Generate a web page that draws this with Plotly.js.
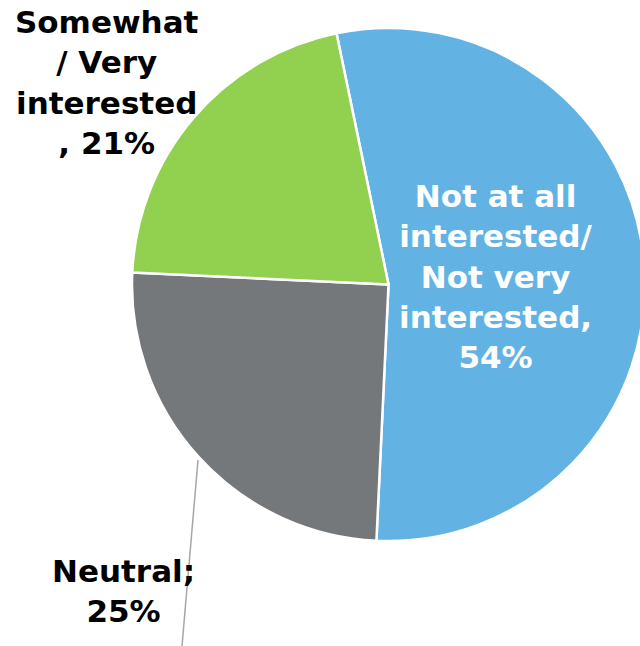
<!DOCTYPE html>
<html>
<head>
<meta charset="utf-8">
<script src="https://cdn.plot.ly/plotly-3.0.1.min.js"></script>
<style>
html,body{margin:0;padding:0;overflow:hidden;background:#fff;}
#chart{width:645px;height:646px;}
</style>
</head>
<body>
<div id="chart"></div>
<script>
// Data
const categories = ["Not at all interested/ Not very interested", "Neutral", "Somewhat / Very interested"];
const values = [54, 25, 21];
const colors = ["#62B3E4", "#75787B", "#92D050"];
const labelLines = [
  ["Not at all", "interested/", "Not very", "interested,"],
  ["Neutral;"],
  ["Somewhat", "/ Very", "interested", ","]
];

const W = 645, H = 646;
const px = x => x / W;
const py = y => 1 - y / H;

const total = values.reduce((a, b) => a + b, 0);
const pct = values.map(v => Math.round(v / total * 100) + "%");

const txt = [
  labelLines[0].join("<br>") + "<br>" + pct[0],
  labelLines[1].join("<br>") + "<br>" + pct[1],
  labelLines[2].slice(0, 3).join("<br>") + "<br>" + labelLines[2][3] + " " + pct[2]
];

const font = {family: "DejaVu Sans", size: 31, color: "#000", weight: "bold"};

const data = [{
  type: "pie",
  labels: categories,
  values: values,
  sort: false,
  direction: "clockwise",
  rotation: -11.7,
  marker: {colors: colors, line: {color: "#ffffff", width: 2.5}},
  textinfo: "none",
  hoverinfo: "label+percent",
  domain: {x: [132 / W, 1], y: [105 / H, 618 / H]}
}];

const layout = {
  width: W,
  height: H,
  margin: {l: 0, r: 0, t: 0, b: 0},
  paper_bgcolor: "#ffffff",
  showlegend: false,
  font: {family: "DejaVu Sans"},
  annotations: [
    {text: "<b>" + txt[0] + "</b>", x: px(496), y: py(276), xref: "paper", yref: "paper",
     showarrow: false, xanchor: "center", yanchor: "middle",
     font: Object.assign({}, font, {color: "#ffffff"})},
    {text: "<b>" + txt[1] + "</b>", x: px(123), y: py(591), xref: "paper", yref: "paper",
     showarrow: false, xanchor: "center", yanchor: "middle", font: font},
    {text: "<b>" + txt[2] + "</b>", x: px(107), y: py(82), xref: "paper", yref: "paper",
     showarrow: false, xanchor: "center", yanchor: "middle", font: font}
  ],
  shapes: [
    {type: "line", xref: "paper", yref: "paper", x0: px(198), y0: py(460), x1: px(182), y1: py(646),
     line: {color: "#A6A6A6", width: 1.5}}
  ]
};

Plotly.newPlot("chart", data, layout, {displayModeBar: false, staticPlot: true});
</script>
</body>
</html>
